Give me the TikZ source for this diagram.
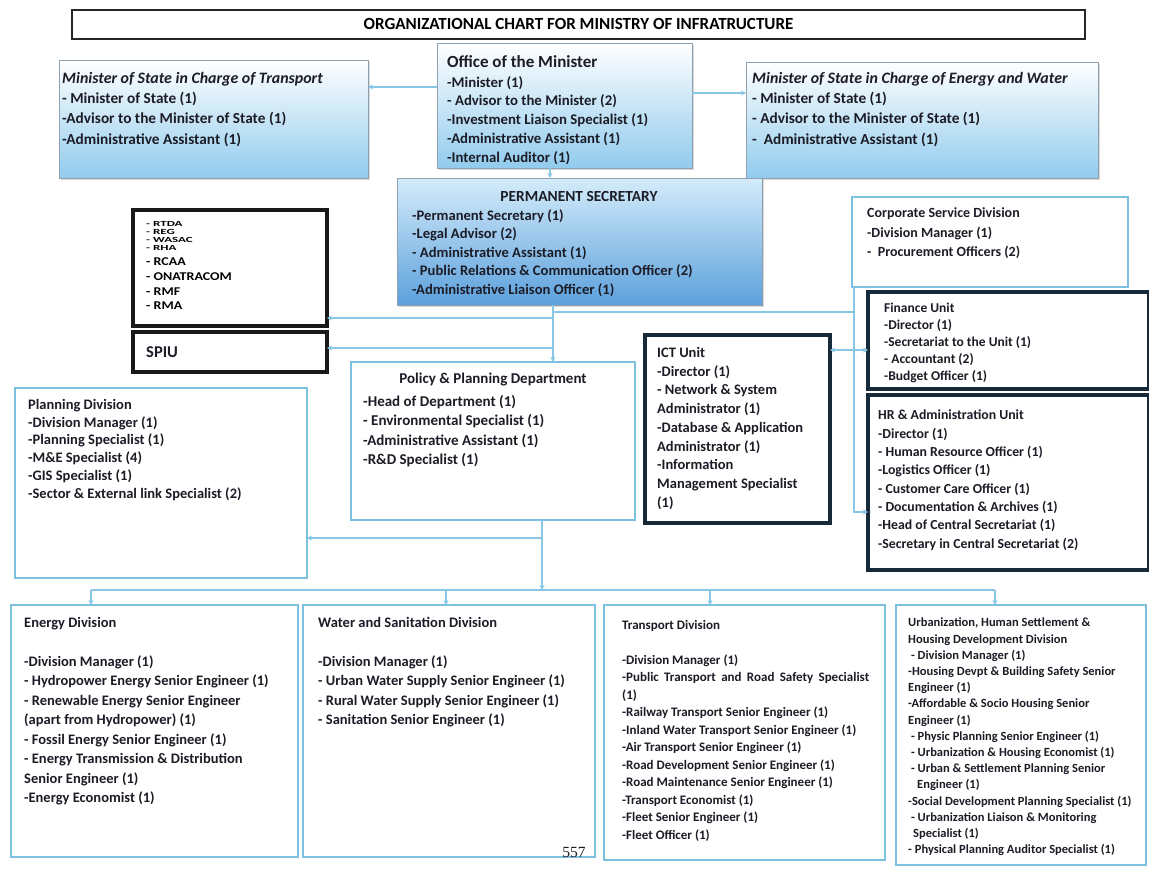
\documentclass[tikz,border=0pt]{standalone}
\usepackage{fontspec}
\setmainfont{Carlito}
\newfontfamily\serifpn{Liberation Serif}
\usetikzlibrary{arrows.meta,fit,shadows}
\definecolor{ink}{RGB}{28,28,38}
\definecolor{lbb}{RGB}{125,192,224}
\definecolor{conn}{RGB}{135,198,228}
\definecolor{navy}{RGB}{22,42,58}
\definecolor{sky}{RGB}{145,203,237}
\definecolor{psb}{RGB}{92,160,220}
\definecolor{pst}{RGB}{212,236,250}
\definecolor{grayb}{RGB}{145,160,175}
\newcommand\myfs[2]{\fontsize{#1}{#2}\selectfont\bfseries}
\tikzset{
  bx/.style={inner sep=0pt, outer sep=0pt},
  shd/.style={drop shadow={opacity=0.3, shadow xshift=2pt, shadow yshift=-2pt}},
  topbox/.style={bx, shd, draw=grayb, line width=1pt, top color=white, middle color=white!55!sky, bottom color=sky},
  psbox/.style={bx, shd, draw=grayb, line width=1pt, top color=pst, bottom color=psb},
  lbbox/.style={bx, draw=lbb, line width=2.6pt, fill=white},
  blkbox/.style={bx, draw=black!90, line width=3.2pt, fill=white},
  nvbox/.style={bx, draw=navy, line width=3.6pt, fill=white},
  txt/.style={anchor=north west, inner sep=0pt, align=left, text=ink},
  ln/.style={draw=conn, line width=2pt},
  arr/.style={ln, -{Stealth[length=5pt,width=5pt]}},
  darr/.style={ln, {Stealth[length=5pt,width=5pt]}-{Stealth[length=5pt,width=5pt]}},
}
\begin{document}
\begin{tikzpicture}[x=1pt,y=-1pt]
\useasboundingbox[fill=white] (0,0) rectangle (1149,870);

% ---------- boxes ----------
\node[bx, draw=black!85, line width=1.2pt, fit={(72,10)(1085,39)}] (title) {};
\node[topbox, fit={(59,60)(368,178)}] (tr) {};
\node[topbox, fit={(437,43)(692,168)}] (om) {};
\node[topbox, fit={(746,62)(1098,178)}] (ew) {};
\node[psbox, fit={(397,178)(762,305)}] (ps) {};
\node[blkbox, fit={(133,210)(327,326)}] (ag) {};
\node[blkbox, fit={(133,332)(327,372)}] (spiu) {};
\node[lbbox, fit={(852,197)(1128,287)}] (cs) {};
\node[nvbox, fit={(868,292)(1149,389)}] (fu) {};
\node[nvbox, fit={(868,395)(1149,570)}] (hr) {};
\node[nvbox, fit={(645,335)(830,523)}] (ict) {};
\node[lbbox, fit={(351,362)(635,520)}] (pp) {};
\node[lbbox, fit={(15,388)(307,578)}] (pd) {};
\node[lbbox, fit={(11,605)(298,857)}] (ed) {};
\node[lbbox, fit={(303,605)(595,857)}] (ws) {};
\node[lbbox, fit={(604,605)(885,860)}] (td) {};
\node[lbbox, fit={(896,605)(1146,865)}] (ud) {};

% ---------- connectors ----------
\draw[arr] (om.west |- 0,87) -- (tr.east |- 0,87);
\draw[arr] (om.east |- 0,93) -- (ew.west |- 0,93);
\draw[arr] (om.south -| 550,0) -- (ps.north -| 550,0);
\draw[arr] (ps.south -| 553,0) -- (pp.north -| 553,0);
\coordinate (jA) at (553,318);
\coordinate (jS) at (553,348);
\coordinate (jR) at (553,312);
\coordinate (vR) at (854,312);
\coordinate (hT) at (854,512);
\draw[arr] (jA) -- (ag.east |- jA);
\draw[arr] (jS) -- (spiu.east |- jS);
\draw[ln] (jR) -- (vR);
\draw[arr] (cs.south -| vR) -- (hT) -- (hr.west |- hT);
\draw[darr] (ict.east |- 0,350) -- (fu.west |- 0,350);
\coordinate (jP) at (542,538);
\coordinate (bM) at (542,590);
\coordinate (bL) at (91,590);
\coordinate (bR) at (995,590);
\draw[arr] (pp.south -| bM) -- (bM);
\draw[arr] (jP) -- (pd.east |- jP);
\draw[ln] (bL) -- (bR);
\draw[arr] (bL) -- (ed.north -| bL);
\draw[arr] (446,590) -- (ws.north -| 446,0);
\draw[arr] (710,590) -- (td.north -| 710,0);
\draw[arr] (bR) -- (ud.north -| bR);

% ---------- texts ----------
\node[inner sep=0pt, text=black, font=\myfs{17}{18}] (title-t) at (578.5,24) {ORGANIZATIONAL CHART FOR MINISTRY OF INFRATRUCTURE};

\node[txt, font=\myfs{15.3}{20.3}] (tr-t) at (62,72) {{\fontsize{15.9}{20.3}\selectfont\itshape Minister of State in Charge of Transport}\\- Minister of State (1)\\-Advisor to the Minister of State (1)\\-Administrative Assistant (1)};

\node[txt, font=\myfs{17}{20}] (om-h) at (447,55) {Office of the Minister};
\node[txt, font=\myfs{14.8}{18.8}] (om-t) at (447,76) {-Minister (1)\\- Advisor to the Minister (2)\\-Investment Liaison Specialist (1)\\-Administrative Assistant (1)\\-Internal Auditor (1)};

\node[txt, font=\myfs{15.3}{20.3}] (ew-t) at (752,72) {{\fontsize{15.9}{20.3}\selectfont\itshape Minister of State in Charge of Energy and Water}\\- Minister of State (1)\\- Advisor to the Minister of State (1)\\-\ \ Administrative Assistant (1)};

\node[inner sep=0pt, text=ink, font=\myfs{15.4}{18}] (ps-h) at (579,197) {PERMANENT SECRETARY};
\node[txt, font=\myfs{14.6}{18.5}] (ps-t) at (412,209) {-Permanent Secretary (1)\\-Legal Advisor (2)\\- Administrative Assistant (1)\\- Public Relations \& Communication Officer (2)\\-Administrative Liaison Officer (1)};

\foreach \t/\y/\s/\v [count=\i] in {RTDA/224/13/0.6, REG/232/13/0.6, WASAC/240/13/0.6, RHA/248/13/0.6, RCAA/262/14/0.85, ONATRACOM/277/14/0.85, RMF/292/14/0.85, RMA/306/14/0.85}
  \node[anchor=west, inner sep=0pt, text=black, font=\myfs{\s}{\s}] (ag-\i) at (146,\y) {\scalebox{1}[\v]{\bfseries - \t}};
\node[anchor=west, inner sep=0pt, text=ink, font=\myfs{16.5}{16.5}] (spiu-t) at (146,352) {SPIU};

\node[txt, font=\myfs{14}{19.5}] (cs-t) at (867,207.5) {Corporate Service Division\\-Division Manager (1)\\-\ \ Procurement Officers (2)};

\node[txt, font=\myfs{13.5}{17}] (fu-t) at (884,302.5) {Finance Unit\\-Director (1)\\-Secretariat to the Unit (1)\\- Accountant (2)\\-Budget Officer (1)};

\node[txt, font=\myfs{13.8}{18.3}] (hr-t) at (878,410) {HR \& Administration Unit\\-Director (1)\\- Human Resource Officer (1)\\-Logistics Officer (1)\\- Customer Care Officer (1)\\- Documentation \& Archives (1)\\-Head of Central Secretariat (1)\\-Secretary in Central Secretariat (2)};

\node[txt, font=\myfs{14.5}{18.75}] (ict-t) at (657,347) {ICT Unit\\-Director (1)\\- Network \& System\\Administrator (1)\\-Database \& Application\\Administrator (1)\\-Information\\Management Specialist\\(1)};

\node[inner sep=0pt, text=ink, font=\myfs{15}{18}] (pp-h) at (493,380) {Policy \& Planning Department};
\node[txt, font=\myfs{15}{19.5}] (pp-t) at (363,395) {-Head of Department (1)\\- Environmental Specialist (1)\\-Administrative Assistant (1)\\-R\&D Specialist (1)};

\node[txt, font=\myfs{14.5}{17.8}] (pd-t) at (28,399) {Planning Division\\-Division Manager (1)\\-Planning Specialist (1)\\-M\&E Specialist (4)\\-GIS Specialist (1)\\-Sector \& External link Specialist (2)};

\node[txt, font=\myfs{14.5}{19.5}] (ed-t) at (24,617) {Energy Division\\\mbox{}\\-Division Manager (1)\\- Hydropower Energy Senior Engineer (1)\\- Renewable Energy Senior Engineer\\(apart from Hydropower) (1)\\- Fossil Energy Senior Engineer (1)\\- Energy Transmission \& Distribution\\Senior Engineer (1)\\-Energy Economist (1)};

\node[txt, font=\myfs{14.5}{19.5}] (ws-t) at (318,617) {Water and Sanitation Division\\\mbox{}\\-Division Manager (1)\\- Urban Water Supply Senior Engineer (1)\\- Rural Water Supply Senior Engineer (1)\\- Sanitation Senior Engineer (1)};

\node[txt, font=\myfs{13}{17.5}] (td-t) at (622,619.8) {Transport Division\\\mbox{}\\-Division Manager (1)\\\makebox[247pt][s]{-Public Transport and Road Safety Specialist}\\(1)\\-Railway Transport Senior Engineer (1)\\-Inland Water Transport Senior Engineer (1)\\-Air Transport Senior Engineer (1)\\-Road Development Senior Engineer (1)\\-Road Maintenance Senior Engineer (1)\\-Transport Economist (1)\\-Fleet Senior Engineer (1)\\-Fleet Officer (1)};

\node[txt, font=\myfs{12.5}{16.2}] (ud-t) at (908,618) {Urbanization, Human Settlement \&\\Housing Development Division\\\ - Division Manager (1)\\-Housing Devpt \& Building Safety Senior\\Engineer (1)\\-Affordable \& Socio Housing Senior\\Engineer (1)\\\ - Physic Planning Senior Engineer (1)\\\ - Urbanization \& Housing Economist (1)\\\ - Urban \& Settlement Planning Senior\\\hspace*{9pt}Engineer (1)\\-Social Development Planning Specialist (1)\\\ - Urbanization Liaison \& Monitoring\\\hspace*{5pt}Specialist (1)\\- Physical Planning Auditor Specialist (1)};

\node[inner sep=0pt, text=ink, font=\serifpn\fontsize{15.5}{15.5}\selectfont] (pg) at (574,852) {557};
\end{tikzpicture}
\end{document}
